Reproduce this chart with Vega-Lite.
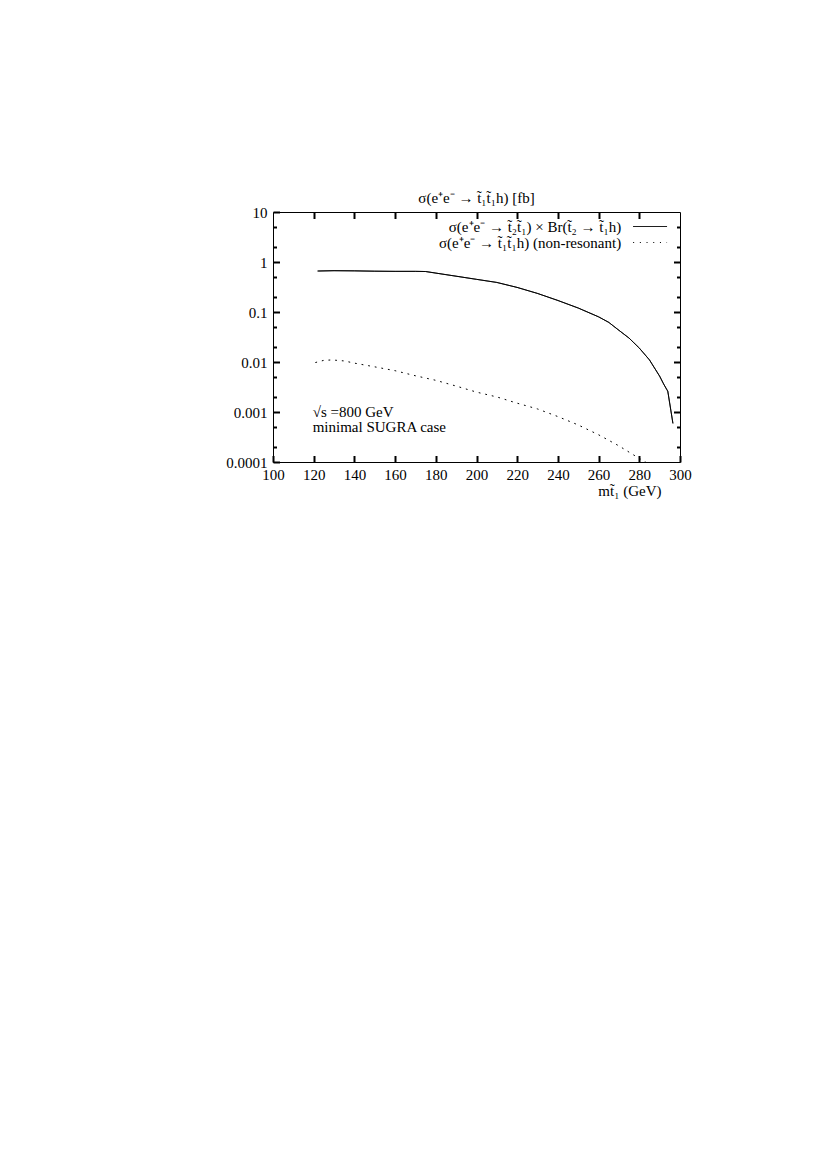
{
  "$schema": "https://vega.github.io/schema/vega-lite/v6.json",
  "width": 407,
  "height": 250,
  "padding": {"left": 225, "top": 191, "right": 5, "bottom": 5},
  "background": "white",
  "config": {
    "view": {"stroke": "black", "strokeWidth": 1},
    "font": "Liberation Serif",
    "axis": {"domain": false, "grid": false, "ticks": true, "tickColor": "black", "tickOpacity": 1, "tickWidth": 2, "zindex": 1, "labelColor": "black", "labelFont": "Liberation Serif", "labelFontSize": 15, "titleFont": "Liberation Serif", "titleFontSize": 15, "titleFontWeight": "normal", "titleColor": "black"}
  },
  "title": {"text": "σ(e⁺e⁻ → t̃₁t̃₁h) [fb]", "font": "Liberation Serif", "fontSize": 15, "fontWeight": "normal", "color": "black", "offset": -1},
  "datasets": {
    "curves": [
      {"m": 122, "xs": 0.66, "series": "σ(e⁺e⁻ → t̃₂t̃₁) × Br(t̃₂ → t̃₁h)"},
      {"m": 130, "xs": 0.67, "series": "σ(e⁺e⁻ → t̃₂t̃₁) × Br(t̃₂ → t̃₁h)"},
      {"m": 140, "xs": 0.665, "series": "σ(e⁺e⁻ → t̃₂t̃₁) × Br(t̃₂ → t̃₁h)"},
      {"m": 150, "xs": 0.655, "series": "σ(e⁺e⁻ → t̃₂t̃₁) × Br(t̃₂ → t̃₁h)"},
      {"m": 160, "xs": 0.65, "series": "σ(e⁺e⁻ → t̃₂t̃₁) × Br(t̃₂ → t̃₁h)"},
      {"m": 170, "xs": 0.65, "series": "σ(e⁺e⁻ → t̃₂t̃₁) × Br(t̃₂ → t̃₁h)"},
      {"m": 175, "xs": 0.645, "series": "σ(e⁺e⁻ → t̃₂t̃₁) × Br(t̃₂ → t̃₁h)"},
      {"m": 180, "xs": 0.6, "series": "σ(e⁺e⁻ → t̃₂t̃₁) × Br(t̃₂ → t̃₁h)"},
      {"m": 190, "xs": 0.52, "series": "σ(e⁺e⁻ → t̃₂t̃₁) × Br(t̃₂ → t̃₁h)"},
      {"m": 200, "xs": 0.45, "series": "σ(e⁺e⁻ → t̃₂t̃₁) × Br(t̃₂ → t̃₁h)"},
      {"m": 210, "xs": 0.39, "series": "σ(e⁺e⁻ → t̃₂t̃₁) × Br(t̃₂ → t̃₁h)"},
      {"m": 220, "xs": 0.31, "series": "σ(e⁺e⁻ → t̃₂t̃₁) × Br(t̃₂ → t̃₁h)"},
      {"m": 230, "xs": 0.235, "series": "σ(e⁺e⁻ → t̃₂t̃₁) × Br(t̃₂ → t̃₁h)"},
      {"m": 240, "xs": 0.17, "series": "σ(e⁺e⁻ → t̃₂t̃₁) × Br(t̃₂ → t̃₁h)"},
      {"m": 250, "xs": 0.12, "series": "σ(e⁺e⁻ → t̃₂t̃₁) × Br(t̃₂ → t̃₁h)"},
      {"m": 260, "xs": 0.08, "series": "σ(e⁺e⁻ → t̃₂t̃₁) × Br(t̃₂ → t̃₁h)"},
      {"m": 265, "xs": 0.062, "series": "σ(e⁺e⁻ → t̃₂t̃₁) × Br(t̃₂ → t̃₁h)"},
      {"m": 270, "xs": 0.043, "series": "σ(e⁺e⁻ → t̃₂t̃₁) × Br(t̃₂ → t̃₁h)"},
      {"m": 275, "xs": 0.03, "series": "σ(e⁺e⁻ → t̃₂t̃₁) × Br(t̃₂ → t̃₁h)"},
      {"m": 280, "xs": 0.019, "series": "σ(e⁺e⁻ → t̃₂t̃₁) × Br(t̃₂ → t̃₁h)"},
      {"m": 285, "xs": 0.011, "series": "σ(e⁺e⁻ → t̃₂t̃₁) × Br(t̃₂ → t̃₁h)"},
      {"m": 290, "xs": 0.0052, "series": "σ(e⁺e⁻ → t̃₂t̃₁) × Br(t̃₂ → t̃₁h)"},
      {"m": 292, "xs": 0.0036, "series": "σ(e⁺e⁻ → t̃₂t̃₁) × Br(t̃₂ → t̃₁h)"},
      {"m": 294, "xs": 0.0026, "series": "σ(e⁺e⁻ → t̃₂t̃₁) × Br(t̃₂ → t̃₁h)"},
      {"m": 296.5, "xs": 0.0006, "series": "σ(e⁺e⁻ → t̃₂t̃₁) × Br(t̃₂ → t̃₁h)"},
      {"m": 121, "xs": 0.0098, "series": "σ(e⁺e⁻ → t̃₁t̃₁h) (non-resonant)"},
      {"m": 125, "xs": 0.0108, "series": "σ(e⁺e⁻ → t̃₁t̃₁h) (non-resonant)"},
      {"m": 129, "xs": 0.011, "series": "σ(e⁺e⁻ → t̃₁t̃₁h) (non-resonant)"},
      {"m": 135, "xs": 0.0105, "series": "σ(e⁺e⁻ → t̃₁t̃₁h) (non-resonant)"},
      {"m": 140, "xs": 0.0095, "series": "σ(e⁺e⁻ → t̃₁t̃₁h) (non-resonant)"},
      {"m": 150, "xs": 0.008, "series": "σ(e⁺e⁻ → t̃₁t̃₁h) (non-resonant)"},
      {"m": 160, "xs": 0.0067, "series": "σ(e⁺e⁻ → t̃₁t̃₁h) (non-resonant)"},
      {"m": 170, "xs": 0.0053, "series": "σ(e⁺e⁻ → t̃₁t̃₁h) (non-resonant)"},
      {"m": 180, "xs": 0.0043, "series": "σ(e⁺e⁻ → t̃₁t̃₁h) (non-resonant)"},
      {"m": 190, "xs": 0.0033, "series": "σ(e⁺e⁻ → t̃₁t̃₁h) (non-resonant)"},
      {"m": 200, "xs": 0.0025, "series": "σ(e⁺e⁻ → t̃₁t̃₁h) (non-resonant)"},
      {"m": 210, "xs": 0.002, "series": "σ(e⁺e⁻ → t̃₁t̃₁h) (non-resonant)"},
      {"m": 220, "xs": 0.0015, "series": "σ(e⁺e⁻ → t̃₁t̃₁h) (non-resonant)"},
      {"m": 230, "xs": 0.00115, "series": "σ(e⁺e⁻ → t̃₁t̃₁h) (non-resonant)"},
      {"m": 240, "xs": 0.00081, "series": "σ(e⁺e⁻ → t̃₁t̃₁h) (non-resonant)"},
      {"m": 250, "xs": 0.00055, "series": "σ(e⁺e⁻ → t̃₁t̃₁h) (non-resonant)"},
      {"m": 260, "xs": 0.00035, "series": "σ(e⁺e⁻ → t̃₁t̃₁h) (non-resonant)"},
      {"m": 270, "xs": 0.00021, "series": "σ(e⁺e⁻ → t̃₁t̃₁h) (non-resonant)"},
      {"m": 277, "xs": 0.00014, "series": "σ(e⁺e⁻ → t̃₁t̃₁h) (non-resonant)"},
      {"m": 283, "xs": 0.0001, "series": "σ(e⁺e⁻ → t̃₁t̃₁h) (non-resonant)"}
    ],
    "notes": [
      {"m": 119.5, "xs": 0.001, "label": "√s =800 GeV"},
      {"m": 119.5, "xs": 0.0005, "label": "minimal SUGRA case"}
    ]
  },
  "layer": [
    {
      "data": {"name": "curves"},
      "mark": {"type": "line", "color": "black", "strokeWidth": 1, "strokeCap": "round", "clip": true},
      "encoding": {
        "x": {"field": "m", "type": "quantitative", "scale": {"domain": [100, 300], "nice": false, "zero": false},
          "axis": {"orient": "bottom", "values": [100, 120, 140, 160, 180, 200, 220, 240, 260, 280, 300], "offset": -6.5, "tickSize": 6.5, "labelPadding": 5, "labelFlush": false, "title": "mt̃₁  (GeV)", "titleX": 388, "titleY": 35, "titleAlign": "right", "titleBaseline": "middle", "titleAnchor": null}},
        "y": {"field": "xs", "type": "quantitative", "scale": {"type": "log", "domain": [0.0001, 10], "nice": false},
          "axis": {"orient": "left", "values": [0.0001, 0.001, 0.01, 0.1, 1, 10], "format": "~g", "offset": -6.5, "tickSize": 6.5, "labelPadding": 6, "labelFlush": false, "title": null}},
        "strokeDash": {"field": "series", "type": "nominal",
          "scale": {"domain": ["σ(e⁺e⁻ → t̃₂t̃₁) × Br(t̃₂ → t̃₁h)", "σ(e⁺e⁻ → t̃₁t̃₁h) (non-resonant)"], "range": [[1, 0], [1, 5.7]]},
          "legend": {"orient": "none", "legendX": 369.6, "legendY": 7, "title": null, "symbolType": "M-5,0H5", "symbolSize": 46, "symbolStrokeColor": "black", "symbolStrokeWidth": 1, "labelAlign": "right", "labelOffset": -36.4, "labelFont": "Liberation Serif", "labelFontSize": 15, "labelColor": "black", "labelLimit": 0, "padding": 0, "rowPadding": -1.5}}
      }
    },
    {
      "data": {"name": "notes"},
      "mark": {"type": "text", "align": "left", "baseline": "middle", "font": "Liberation Serif", "fontSize": 15, "color": "black"},
      "encoding": {
        "x": {"field": "m", "type": "quantitative", "scale": {"domain": [100, 300], "nice": false, "zero": false}, "axis": null},
        "y": {"field": "xs", "type": "quantitative", "scale": {"type": "log", "domain": [0.0001, 10], "nice": false}, "axis": null},
        "text": {"field": "label"}
      }
    },
    {
      "data": {"name": "curves"},
      "mark": {"type": "point", "opacity": 0},
      "encoding": {
        "x": {"field": "m", "type": "quantitative", "scale": {"domain": [100, 300], "nice": false, "zero": false},
          "axis": {"orient": "top", "values": [120, 140, 160, 180, 200, 220, 240, 260, 280], "offset": -6.5, "tickSize": 6.5, "labels": false, "title": null}},
        "y": {"field": "xs", "type": "quantitative", "scale": {"type": "log", "domain": [0.0001, 10], "nice": false},
          "axis": {"orient": "right", "values": [0.001, 0.01, 0.1, 1], "offset": -6.5, "tickSize": 6.5, "labels": false, "title": null}}
      }
    },
    {
      "data": {"name": "curves"},
      "mark": {"type": "point", "opacity": 0},
      "encoding": {
        "x": {"field": "m", "type": "quantitative", "scale": {"domain": [100, 300], "nice": false, "zero": false}, "axis": null},
        "y": {"field": "xs", "type": "quantitative", "scale": {"type": "log", "domain": [0.0001, 10], "nice": false},
          "axis": {"orient": "left", "values": [0.0002, 0.0005, 0.002, 0.005, 0.02, 0.05, 0.2, 0.5, 2, 5], "offset": -3.5, "tickSize": 3.5, "labels": false, "title": null}}
      }
    },
    {
      "data": {"name": "curves"},
      "mark": {"type": "point", "opacity": 0},
      "encoding": {
        "x": {"field": "m", "type": "quantitative", "scale": {"domain": [100, 300], "nice": false, "zero": false}, "axis": null},
        "y": {"field": "xs", "type": "quantitative", "scale": {"type": "log", "domain": [0.0001, 10], "nice": false},
          "axis": {"orient": "right", "values": [0.0002, 0.0005, 0.002, 0.005, 0.02, 0.05, 0.2, 0.5, 2, 5], "offset": -3.5, "tickSize": 3.5, "labels": false, "title": null}}
      }
    }
  ],
  "resolve": {"axis": {"x": "independent", "y": "independent"}}
}
